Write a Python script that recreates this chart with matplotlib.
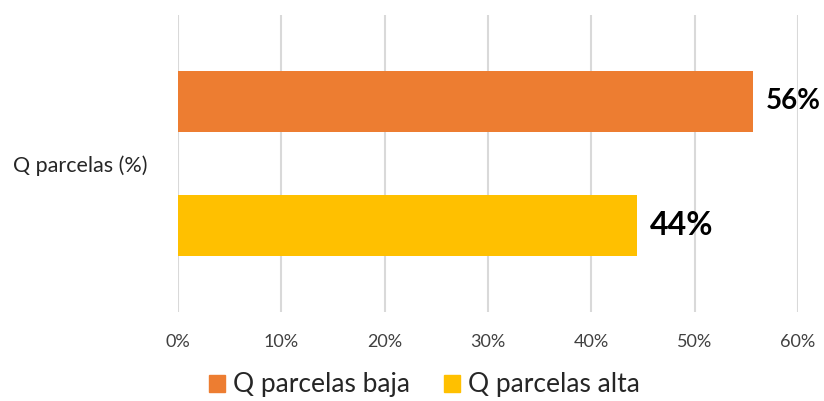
import matplotlib
matplotlib.use("Agg")
import matplotlib.pyplot as plt
from matplotlib.patches import Patch

plt.rcParams['font.family'] = ['Lato', 'DejaVu Sans']

category = "Q parcelas (%)"
series_names = ["Q parcelas baja", "Q parcelas alta"]
series_values = [55.6, 44.4]
value_labels = ["56%", "44%"]
label_sizes = [20, 23]
colors = ["#ED7D31", "#FFC000"]
xticks = [0, 10, 20, 30, 40, 50, 60]
xtick_labels = ["0%", "10%", "20%", "30%", "40%", "50%", "60%"]

fig = plt.figure(figsize=(8.24, 4.01), dpi=100)
ax = fig.add_axes([178/824, 1-312/401, (798-178)/824, (312-15)/401])

offsets = [0.418, -0.418]
h = 0.407
for v, off, c, lab, fs in zip(series_values, offsets, colors, value_labels, label_sizes):
    ax.barh(off, v, height=h, color=c, zorder=3)
    ax.text(v + 1.3, off, lab, va='center', ha='left', fontsize=fs,
            fontweight='bold', color='black')

ax.set_xlim(0, 60)
ax.set_ylim(-1, 1)
ax.set_xticks(xticks)
ax.set_xticklabels(xtick_labels, fontsize=13, color='#404040')
ax.set_yticks([0])
ax.set_yticklabels([category], fontsize=15.5, color='#262626')
ax.tick_params(axis='x', length=0, pad=16)
ax.tick_params(axis='y', length=0, pad=22)
ax.grid(axis='x', color='#D9D9D9', linewidth=1.5, zorder=0)
for s in ax.spines.values():
    s.set_visible(False)

handles = [Patch(color=c, label=n) for c, n in zip(colors, series_names)]
fig.legend(handles=handles, loc='center', bbox_to_anchor=(0.515, 0.04), ncol=2,
           frameon=False, fontsize=19, handlelength=0.6, handleheight=0.6,
           handletextpad=0.3, columnspacing=1.3, labelcolor='#262626',
           borderpad=0.1)

fig.savefig("out.png", dpi=100)
